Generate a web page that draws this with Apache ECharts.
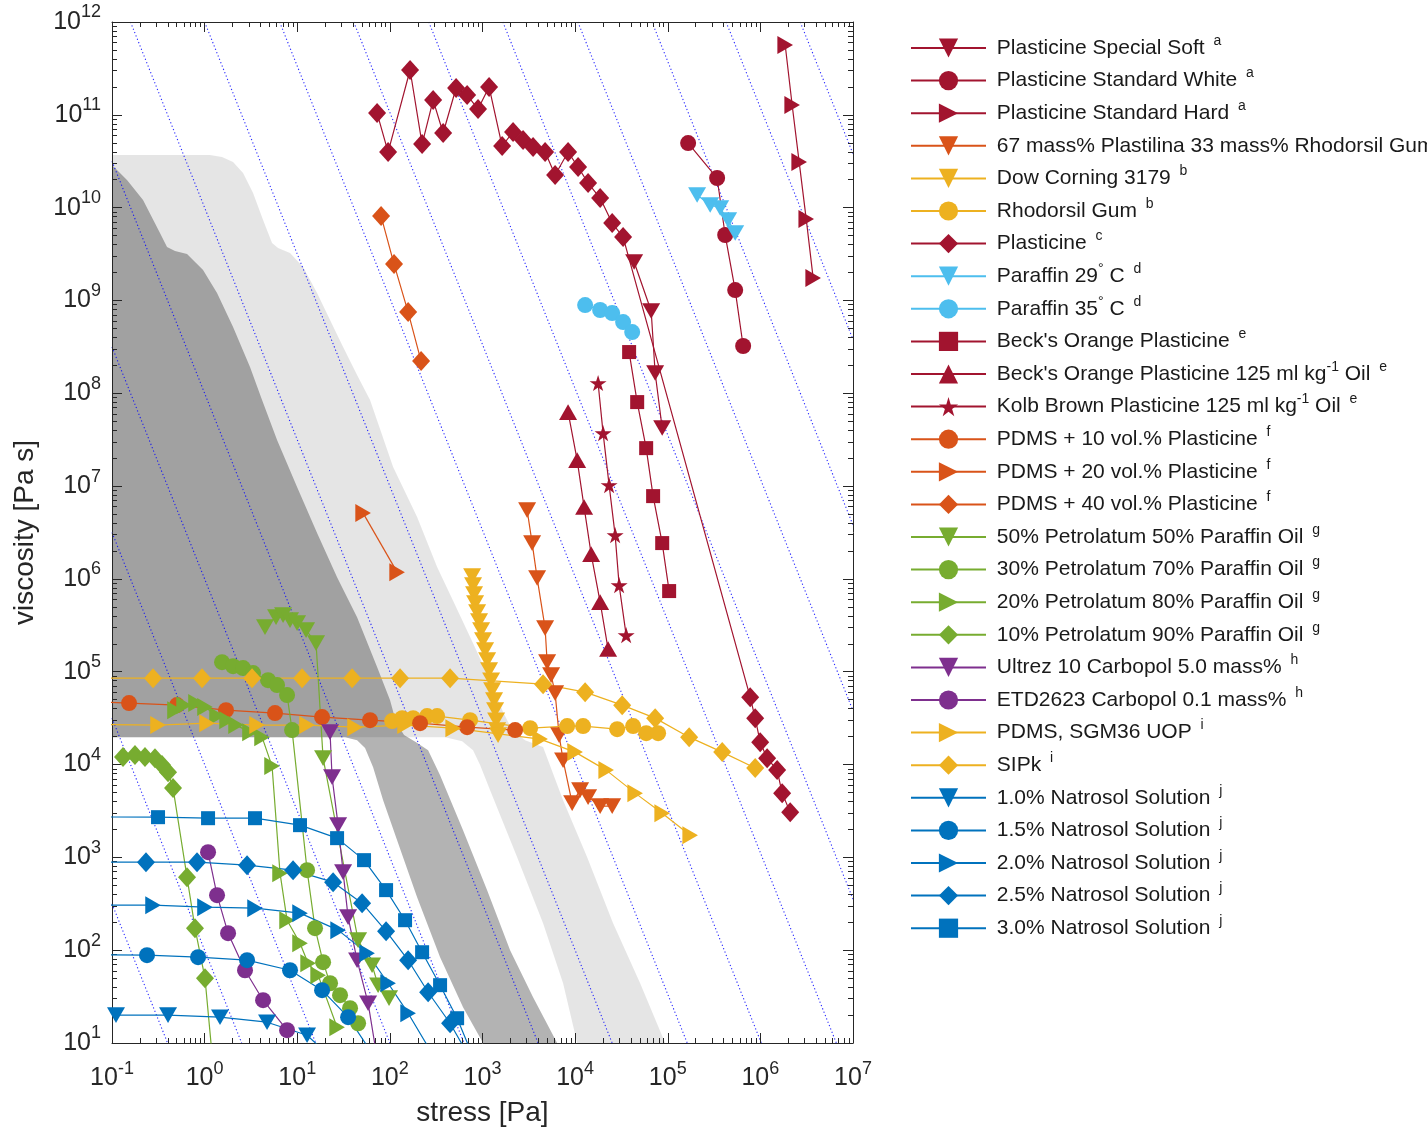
<!DOCTYPE html>
<html><head><meta charset="utf-8">
<script src="https://cdn.jsdelivr.net/npm/echarts@6.0.0/dist/echarts.min.js"></script>
<style>html,body{margin:0;padding:0;background:#fff;overflow:hidden}#c{width:1427px;height:1132px}</style>
</head><body><div id="c"></div>
<script>
const plasticineSpecialSoft = [[4.637,9.414],[4.821,8.886],[4.864,8.218],[4.940,7.625]];
const plasticineStandardWhite = [[5.220,10.696],[5.533,10.319],[5.620,9.705],[5.728,9.112],[5.814,8.509]];
const plasticineStandardHard = [[6.268,11.752],[6.343,11.106],[6.419,10.491],[6.495,9.877],[6.570,9.241]];
const plastilinaRhodorsil = [[3.482,6.741],[3.536,6.386],[3.590,6.009],[3.676,5.470],[3.698,5.103],[3.741,4.963],[3.784,4.769],[3.827,4.317],[3.870,4.047],[3.968,3.584],[4.054,3.724],[4.140,3.649],[4.270,3.552],[4.400,3.552]];
const dowCorning3179 = [[2.888,6.030],[2.898,5.933],[2.909,5.836],[2.920,5.739],[2.942,5.642],[2.963,5.545],[2.985,5.448],[3.006,5.341],[3.028,5.233],[3.050,5.125],[3.071,5.017],[3.093,4.909],[3.104,4.802],[3.125,4.694],[3.136,4.586],[3.147,4.478],[3.158,4.371],[3.168,4.317]];
const rhodorsilGum = [[2.024,4.468],[2.132,4.500],[2.251,4.500],[2.402,4.522],[2.510,4.522],[2.866,4.478],[3.514,4.392],[3.914,4.414],[4.086,4.414],[4.454,4.381],[4.626,4.414],[4.767,4.338],[4.896,4.338]];
const plasticineC = [[1.862,11.019],[1.981,10.599],[2.218,11.483],[2.348,10.685],[2.467,11.159],[2.575,10.804],[2.715,11.289],[2.834,11.213],[2.952,11.062],[3.071,11.300],[3.212,10.664],[3.330,10.815],[3.438,10.728],[3.546,10.653],[3.676,10.599],[3.784,10.351],[3.924,10.599],[4.032,10.437],[4.140,10.265],[4.270,10.103],[4.400,9.834],[4.518,9.683],[5.890,4.726],[5.944,4.500],[5.998,4.241],[6.073,4.069],[6.181,3.940],[6.235,3.692],[6.322,3.487]];
const paraffin29 = [[5.317,10.136],[5.458,10.028],[5.566,9.996],[5.652,9.866],[5.728,9.726]];
const paraffin35 = [[4.108,8.950],[4.270,8.897],[4.400,8.864],[4.518,8.767],[4.616,8.659]];
const becksOrange = [[4.583,8.444],[4.670,7.905],[4.767,7.409],[4.842,6.892],[4.940,6.386],[5.015,5.869]];
const becksOrangeOil = [[3.924,7.797],[4.022,7.280],[4.097,6.774],[4.173,6.267],[4.270,5.750],[4.356,5.244]];
const kolbBrownOil = [[4.248,8.110],[4.302,7.571],[4.367,7.011],[4.432,6.472],[4.475,5.933],[4.551,5.394]];
const pdms10 = [[-1.30,4.68],[-0.816,4.662],[-0.298,4.641],[0.231,4.586],[0.760,4.554],[1.268,4.511],[1.786,4.478],[2.326,4.446],[2.834,4.403],[3.352,4.371]];
const pdms20 = [[1.711,6.709],[2.078,6.073]];
const pdms40 = [[1.905,9.909],[2.045,9.392],[2.197,8.875],[2.337,8.347]];
const petro50 = [[0.652,5.481],[0.771,5.588],[0.847,5.610],[0.922,5.556],[0.998,5.524],[1.095,5.448],[1.203,5.308],[1.279,4.069],[1.657,2.108],[1.808,1.838],[1.873,1.623],[1.991,1.483]];
const petro30 = [[0.188,5.103],[0.307,5.060],[0.415,5.039],[0.523,4.985],[0.685,4.909],[0.782,4.856],[0.890,4.748],[0.944,4.371],[1.106,2.862],[1.192,2.237],[1.279,1.871],[1.354,1.644],[1.462,1.515],[1.570,1.375],[1.657,1.213]];
const petro20 = [[-0.320,4.586],[-0.222,4.640],[-0.093,4.662],[0.004,4.619],[0.134,4.522],[0.242,4.478],[0.339,4.425],[0.490,4.349],[0.620,4.295],[0.728,3.983],[0.814,2.830],[0.890,2.323],[1.030,2.075],[1.117,1.860],[1.225,1.731],[1.430,1.170]];
const petro10 = [[-0.881,4.080],[-0.752,4.102],[-0.644,4.080],[-0.536,4.069],[-0.460,3.994],[-0.395,3.918],[-0.341,3.746],[-0.190,2.787],[-0.104,2.237],[0.004,1.698],[0.091,0.76]];
const ultrez10 = [[1.354,4.349],[1.376,3.864],[1.441,3.347],[1.495,2.841],[1.549,2.356],[1.646,1.892],[1.765,1.429],[1.86,0.85]];
const etd2623 = [[0.037,3.056],[0.134,2.593],[0.253,2.183],[0.436,1.784],[0.631,1.461],[0.890,1.138]];
const pdmsSGM36 = [[-1.04,4.43],[-0.503,4.425],[0.026,4.446],[0.566,4.425],[1.106,4.425],[1.624,4.403],[2.164,4.425],[2.683,4.392],[3.622,4.274],[4.000,4.134],[4.335,3.940],[4.648,3.692],[4.940,3.476],[5.242,3.239]];
const sipk = [[-1.097,4.931],[-0.557,4.931],[-0.028,4.931],[0.512,4.931],[1.052,4.931],[1.592,4.931],[2.110,4.931],[2.650,4.931],[3.654,4.866],[4.108,4.780],[4.508,4.640],[4.864,4.500],[5.231,4.295],[5.588,4.134],[5.944,3.962]];
const natrosol10 = [[-0.957,1.300],[-0.395,1.300],[0.166,1.278],[0.674,1.224],[1.106,1.084],[1.52,0.70]];
const natrosol15 = [[-1.17,1.95],[-0.622,1.946],[-0.071,1.925],[0.458,1.892],[0.922,1.784],[1.268,1.569],[1.549,1.278],[1.80,0.90]];
const natrosol20 = [[-1.12,2.485],[-0.557,2.485],[0.004,2.463],[0.544,2.453],[1.030,2.399],[1.441,2.216],[1.754,1.968],[1.981,1.644],[2.197,1.321],[2.40,0.98]];
const natrosol25 = [[-1.17,2.948],[-0.633,2.948],[-0.082,2.948],[0.458,2.916],[0.955,2.862],[1.387,2.733],[1.700,2.506],[1.959,2.205],[2.197,1.892],[2.413,1.547],[2.650,1.213],[2.80,0.95]];
const natrosol30 = [[-1.04,3.435],[-0.503,3.433],[0.037,3.422],[0.544,3.422],[1.030,3.347],[1.430,3.207],[1.721,2.970],[1.959,2.647],[2.164,2.323],[2.348,1.978],[2.542,1.623],[2.726,1.267],[2.87,0.92]];

// shaded regions (outline vertices, log10 units)
const regionDark = [[-1.000,10.459],[-0.838,10.297],[-0.665,10.082],[-0.482,9.726],[-0.406,9.575],[-0.320,9.532],[-0.190,9.500],[-0.017,9.328],[0.134,9.080],[0.307,8.713],[0.490,8.282],[0.620,7.927],[0.782,7.496],[0.998,6.989],[1.214,6.494],[1.430,6.019],[1.646,5.588],[1.862,5.050],[2.002,4.694],[2.067,4.457],[2.153,4.317],[2.283,4.241],[2.413,4.155],[2.542,3.886],[2.790,3.293],[3.050,2.647],[3.298,2.000],[3.546,1.494],[3.806,1.000],
  [3.006,1.000],[2.790,1.386],[2.542,1.925],[2.294,2.571],[2.078,3.185],[1.927,3.616],[1.819,3.972],[1.732,4.177],[1.646,4.263],[1.516,4.295],[-1.000,4.295]];
const regionLight = [[-1.000,10.567],[0.058,10.567],[0.188,10.545],[0.307,10.491],[0.415,10.373],[0.523,10.157],[0.631,9.866],[0.728,9.619],[0.793,9.565],[0.922,9.511],[1.063,9.360],[1.214,9.080],[1.354,8.789],[1.495,8.498],[1.646,8.196],[1.786,7.927],[2.035,7.205],[2.294,6.666],[2.510,6.127],[2.704,5.718],[2.898,5.308],[3.082,4.909],[3.222,4.565],[3.320,4.371],[3.460,4.263],[3.654,4.188],[3.870,3.616],[4.130,3.002],[4.410,2.291],[4.702,1.645],[4.972,1.000],
  [4.022,1.000],[3.870,1.645],[3.654,2.291],[3.374,3.002],[3.082,3.724],[2.974,3.994],[2.898,4.155],[2.780,4.252],[2.596,4.295],[-1.000,4.295]];

// dotted guide lines: [log stress start, log visc start, log stress end, log visc end]
const guideLines = [[-1,2.5,-0.4,1],[-1,4.5,0.4,1],[-1,6.5,1.2,1],[-1,8.5,2.0,1],[-1,10.5,2.8,1],[-0.8,12,3.6,1],[0,12,4.4,1],[0.81,12,5.21,1],[1.61,12,6.01,1],[2.42,12,6.82,1],[3.22,12,7,2.55],[4.03,12,7,4.58],[4.83,12,7,6.58],[5.63,12,7,8.58],[6.43,12,7,10.58]];

// tick values
const xMajor = [0.1,1,10,100,1e3,1e4,1e5,1e6,1e7];
const yMajor = [10,100,1e3,1e4,1e5,1e6,1e7,1e8,1e9,1e10,1e11,1e12];
const mults = [2,3,4,5,6,7,8,9];
const xMinor = xMajor.slice(0,-1).flatMap(d => mults.map(m => +(d*m).toPrecision(3)));
const yMinor = yMajor.slice(0,-1).flatMap(d => mults.map(m => +(d*m).toPrecision(3)));

const C = {red:'#a2142f', orange:'#d95319', yellow:'#edb120', cyan:'#4dbeee', green:'#77ac30', purple:'#7e2f8e', blue:'#0072bd'};
const SYM = {
  down:'path://M0,0L20,0L10,17.32Z', right:'path://M0,0L17.32,10L0,20Z', up:'path://M10,0L20,17.32L0,17.32Z',
  circle:'circle', diamond:'diamond', square:'rect',
  star:'path://M50,0L61,35L98,35L68,57L79,91L50,70L21,91L32,57L2,35L39,35Z'
};
const SIZE = {down:18, right:18, up:18, circle:16, diamond:[18,20], square:14, star:17};

// legend markup: ^{x} = inner superscript, ~{x} = trailing reference letter
const defs = [
  ['Plasticine Special Soft','Plasticine Special Soft ~{a}',C.red,'down',plasticineSpecialSoft],
  ['Plasticine Standard White','Plasticine Standard White ~{a}',C.red,'circle',plasticineStandardWhite],
  ['Plasticine Standard Hard','Plasticine Standard Hard ~{a}',C.red,'right',plasticineStandardHard],
  ['67 mass% Plastilina 33 mass% Rhodorsil Gum','67 mass% Plastilina 33 mass% Rhodorsil Gum ~{b}',C.orange,'down',plastilinaRhodorsil],
  ['Dow Corning 3179','Dow Corning 3179 ~{b}',C.yellow,'down',dowCorning3179],
  ['Rhodorsil Gum','Rhodorsil Gum ~{b}',C.yellow,'circle',rhodorsilGum],
  ['Plasticine','Plasticine ~{c}',C.red,'diamond',plasticineC],
  ['Paraffin 29° C','Paraffin 29^{°} C ~{d}',C.cyan,'down',paraffin29],
  ['Paraffin 35° C','Paraffin 35^{°} C ~{d}',C.cyan,'circle',paraffin35],
  ["Beck's Orange Plasticine","Beck's Orange Plasticine ~{e}",C.red,'square',becksOrange],
  ["Beck's Orange Plasticine 125 ml kg-1 Oil","Beck's Orange Plasticine 125 ml kg^{-1} Oil ~{e}",C.red,'up',becksOrangeOil],
  ['Kolb Brown Plasticine 125 ml kg-1 Oil','Kolb Brown Plasticine 125 ml kg^{-1} Oil ~{e}',C.red,'star',kolbBrownOil],
  ['PDMS + 10 vol.% Plasticine','PDMS + 10 vol.% Plasticine ~{f}',C.orange,'circle',pdms10],
  ['PDMS + 20 vol.% Plasticine','PDMS + 20 vol.% Plasticine ~{f}',C.orange,'right',pdms20],
  ['PDMS + 40 vol.% Plasticine','PDMS + 40 vol.% Plasticine ~{f}',C.orange,'diamond',pdms40],
  ['50% Petrolatum 50% Paraffin Oil','50% Petrolatum 50% Paraffin Oil ~{g}',C.green,'down',petro50],
  ['30% Petrolatum 70% Paraffin Oil','30% Petrolatum 70% Paraffin Oil ~{g}',C.green,'circle',petro30],
  ['20% Petrolatum 80% Paraffin Oil','20% Petrolatum 80% Paraffin Oil ~{g}',C.green,'right',petro20],
  ['10% Petrolatum 90% Paraffin Oil','10% Petrolatum 90% Paraffin Oil ~{g}',C.green,'diamond',petro10],
  ['Ultrez 10 Carbopol 5.0 mass%','Ultrez 10 Carbopol 5.0 mass% ~{h}',C.purple,'down',ultrez10],
  ['ETD2623 Carbopol 0.1 mass%','ETD2623 Carbopol 0.1 mass% ~{h}',C.purple,'circle',etd2623],
  ['PDMS, SGM36 UOP','PDMS, SGM36 UOP ~{i}',C.yellow,'right',pdmsSGM36],
  ['SIPk','SIPk ~{i}',C.yellow,'diamond',sipk],
  ['1.0% Natrosol Solution','1.0% Natrosol Solution ~{j}',C.blue,'down',natrosol10],
  ['1.5% Natrosol Solution','1.5% Natrosol Solution ~{j}',C.blue,'circle',natrosol15],
  ['2.0% Natrosol Solution','2.0% Natrosol Solution ~{j}',C.blue,'right',natrosol20],
  ['2.5% Natrosol Solution','2.5% Natrosol Solution ~{j}',C.blue,'diamond',natrosol25],
  ['3.0% Natrosol Solution','3.0% Natrosol Solution ~{j}',C.blue,'square',natrosol30]
];

const FONT = '"Liberation Sans", Arial, Helvetica, sans-serif';
const TXT = '#262626';
const P = arr => arr.map(p => [Math.pow(10, p[0]), Math.pow(10, p[1])]);
const markup = {};
defs.forEach(d => {
  const parts = d[1].split(/([\^~]\{[^}]*\})/).filter(s => s.length);
  markup[d[0]] = '{n| }' + parts.map(s => {
    if (s.startsWith('^{')) return '{t|' + s.slice(2, -1) + '}';
    if (s.startsWith('~{')) return '{s|' + s.slice(2, -1) + '}';
    return '{n|' + s + '}';
  }).join('');
});

function regionSeries(pts, fill) {
  const data = P(pts);
  return {
    type:'custom', coordinateSystem:'cartesian2d', silent:true, clip:true, z:1, animation:false,
    data:[[1, 1e4]],
    renderItem: (params, api) => ({type:'polygon', shape:{points: data.map(p => api.coord(p))}, style:{fill: fill}})
  };
}

const series = [regionSeries(regionLight, 'rgba(0,0,0,0.102)'), regionSeries(regionDark, 'rgba(0,0,0,0.298)')];
guideLines.forEach(g => series.push({
  type:'line', data:[[Math.pow(10,g[0]),Math.pow(10,g[1])],[Math.pow(10,g[2]),Math.pow(10,g[3])]],
  symbol:'none', silent:true, z:2, animation:false, clip:true,
  lineStyle:{color:'#0000ff', width:1.1, type:[1.2,2.4], opacity:0.85}
}));
defs.forEach(d => series.push({
  type:'line', name:d[0], data:P(d[4]), symbol:SYM[d[3]], symbolSize:SIZE[d[3]], symbolKeepAspect:true,
  itemStyle:{color:d[2]}, lineStyle:{color:d[2], width:1.2}, z:4, clip:true, animation:false,
  emphasis:{disabled:true}
}));

const tickFmt = v => '{b|10}{e|' + Math.round(Math.log10(v)) + '}';
const labelRich = {
  b:{fontSize:25, fontFamily:FONT, color:TXT},
  e:{fontSize:18, fontFamily:FONT, color:TXT, padding:[0,0,19,0]}
};
const lineC = {show:true, onZero:false, lineStyle:{color:TXT, width:1}};
function axisSet(kind, min, max, major, minor) {
  const pos = kind === 'x' ? ['bottom','top'] : ['left','right'];
  const base = {type:'log', logBase:10, min:min, max:max, splitLine:{show:false}, minorTick:{show:false}, minorSplitLine:{show:false}, z:3};
  return [
    Object.assign({}, base, {position:pos[0], axisLine:lineC,
      axisTick:{show:true, inside:true, length:10, customValues:major, lineStyle:{color:TXT}},
      axisLabel:{show:true, customValues:major, formatter:tickFmt, rich:labelRich, margin: kind === 'x' ? 17 : 11, color:TXT},
      name: kind === 'x' ? 'stress [Pa]' : 'viscosity [Pa s]', nameLocation:'middle', nameGap: kind === 'x' ? 56 : 73,
      nameMoveOverlap:false,
      nameTextStyle:{fontSize:28, fontFamily:FONT, color:TXT}}),
    Object.assign({}, base, {position:pos[1], axisLine:lineC,
      axisTick:{show:true, inside:true, length:10, customValues:major, lineStyle:{color:TXT}}, axisLabel:{show:false}}),
    Object.assign({}, base, {position:pos[0], axisLine:{show:false},
      axisTick:{show:true, inside:true, length:5, customValues:minor, lineStyle:{color:TXT}}, axisLabel:{show:false}}),
    Object.assign({}, base, {position:pos[1], axisLine:{show:false},
      axisTick:{show:true, inside:true, length:5, customValues:minor, lineStyle:{color:TXT}}, axisLabel:{show:false}})
  ];
}

const chart = echarts.init(document.getElementById('c'), null, {renderer:'canvas', width:1427, height:1132});
chart.setOption({
  animation:false,
  backgroundColor:'#ffffff',
  grid:{left:112, right:574, top:22, bottom:89, containLabel:false, outerBoundsMode:'none'},
  xAxis: axisSet('x', 0.1, 1e7, xMajor, xMinor),
  yAxis: axisSet('y', 10, 1e12, yMajor, yMinor),
  legend:{
    show:true, orient:'vertical', left:905, top:29, itemWidth:75, itemHeight:24, itemGap:4.6,
    selectedMode:false, data: defs.map(d => d[0]),
    formatter: name => markup[name],
    textStyle:{color:'#1a1a1a', fontFamily:FONT, fontSize:21,
      rich:{ n:{fontSize:21, lineHeight:24, fontFamily:FONT, color:'#1a1a1a'},
             s:{fontSize:14, lineHeight:14, fontFamily:FONT, color:'#1a1a1a', padding:[0,0,14,3]},
             t:{fontSize:14, lineHeight:14, fontFamily:FONT, color:'#1a1a1a', padding:[0,0,14,0]} }}
  },
  series: series
});
</script></body></html>
